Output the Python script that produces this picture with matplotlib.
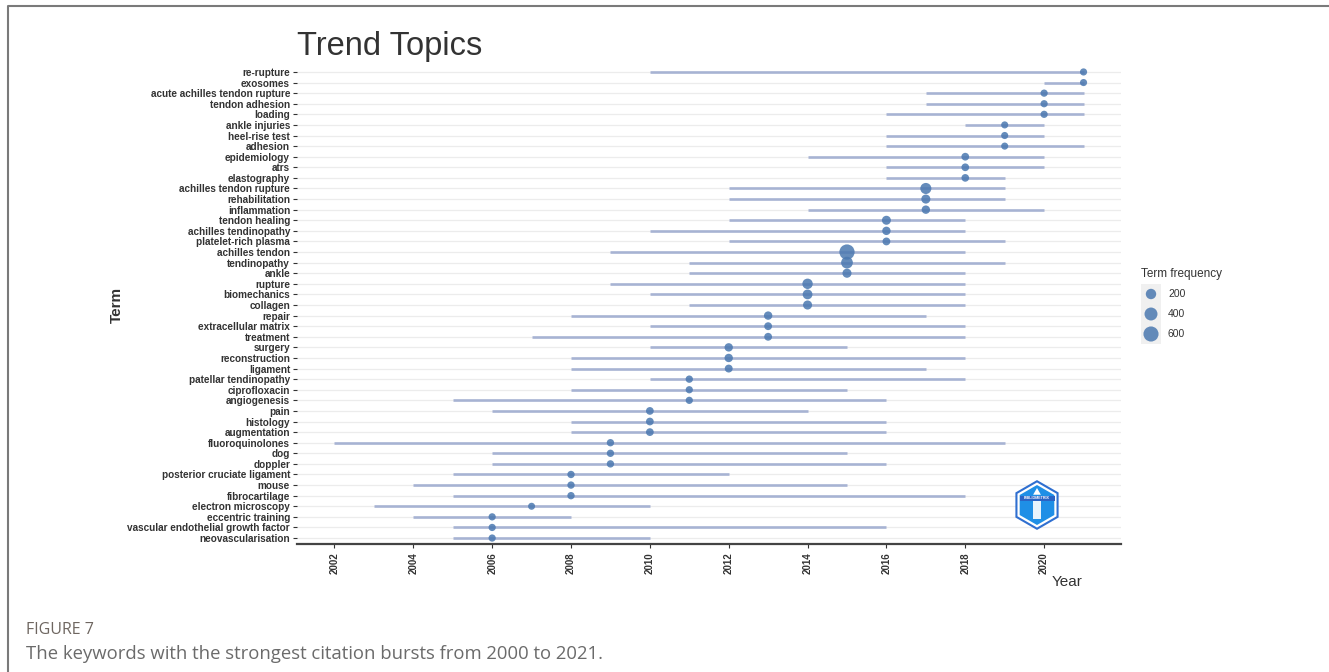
import matplotlib.pyplot as plt
import matplotlib as mpl
import numpy as np
from matplotlib.patches import RegularPolygon, Rectangle

mpl.rcParams['font.family'] = ['Liberation Sans', 'DejaVu Sans']

# terms from top to bottom, with first-quartile, median and third-quartile year
terms = ['re-rupture', 'exosomes', 'acute achilles tendon rupture', 'tendon adhesion',
         'loading', 'ankle injuries', 'heel-rise test', 'adhesion', 'epidemiology', 'atrs',
         'elastography', 'achilles tendon rupture', 'rehabilitation', 'inflammation',
         'tendon healing', 'achilles tendinopathy', 'platelet-rich plasma', 'achilles tendon',
         'tendinopathy', 'ankle', 'rupture', 'biomechanics', 'collagen', 'repair',
         'extracellular matrix', 'treatment', 'surgery', 'reconstruction', 'ligament',
         'patellar tendinopathy', 'ciprofloxacin', 'angiogenesis', 'pain', 'histology',
         'augmentation', 'fluoroquinolones', 'dog', 'doppler', 'posterior cruciate ligament',
         'mouse', 'fibrocartilage', 'electron microscopy', 'eccentric training',
         'vascular endothelial growth factor', 'neovascularisation']
year_q1 = [2010, 2020, 2017, 2017, 2016, 2018, 2016, 2016, 2014, 2016,
           2016, 2012, 2012, 2014, 2012, 2010, 2012, 2009, 2011, 2011,
           2009, 2010, 2011, 2008, 2010, 2007, 2010, 2008, 2008, 2010,
           2008, 2005, 2006, 2008, 2008, 2002, 2006, 2006, 2005, 2004,
           2005, 2003, 2004, 2005, 2005]
year_med = [2021, 2021, 2020, 2020, 2020, 2019, 2019, 2019, 2018, 2018,
            2018, 2017, 2017, 2017, 2016, 2016, 2016, 2015, 2015, 2015,
            2014, 2014, 2014, 2013, 2013, 2013, 2012, 2012, 2012, 2011,
            2011, 2011, 2010, 2010, 2010, 2009, 2009, 2009, 2008, 2008,
            2008, 2007, 2006, 2006, 2006]
year_q3 = [2021, 2021, 2021, 2021, 2021, 2020, 2020, 2021, 2020, 2020,
           2019, 2019, 2019, 2020, 2018, 2018, 2019, 2018, 2019, 2018,
           2018, 2018, 2018, 2017, 2018, 2018, 2015, 2018, 2017, 2018,
           2015, 2016, 2014, 2016, 2016, 2019, 2015, 2016, 2012, 2015,
           2018, 2010, 2008, 2016, 2010]
freq = [12, 10, 15, 14, 14, 8, 9, 8, 40, 38,
        35, 250, 115, 75, 110, 75, 45, 615, 300, 115,
        200, 160, 115, 75, 45, 45, 75, 75, 50, 20,
        15, 15, 40, 40, 40, 20, 20, 20, 20, 20,
        20, 5, 15, 15, 15]
legend_freq = [200, 400, 600]
year_ticks = list(range(2002, 2021, 2))

DOT = '#4a78b0'
SEG = '#a7b3d3'


def marker_area(v):
    # point area grows linearly with term frequency (pixel diameter -> points^2)
    d_px = np.sqrt(48 + 0.30 * np.asarray(v, dtype=float))
    return (d_px * 72 / 100) ** 2


fig = plt.figure(figsize=(13.29, 6.72), dpi=100)
ax = fig.add_axes([297 / 1329, 1 - 544.4 / 672, 824 / 1329, (544.4 - 65.6) / 672])

ypos = np.arange(len(terms))
for y in ypos:
    ax.axhline(y, color='#ececec', lw=0.9, zorder=0)
ax.hlines(ypos, year_q1, year_q3, color=SEG, lw=1.9, zorder=1)
ax.scatter(year_med, ypos, s=marker_area(freq), color=DOT, alpha=0.85,
           edgecolors='none', zorder=2)

span = max(year_q3) - min(year_q1)
ax.set_xlim(min(year_q1) - 0.05 * span, max(year_q3) + 0.05 * span)
ax.set_ylim(len(terms) - 0.4, -0.6)
ax.set_yticks(ypos)
ax.set_yticklabels(terms, fontsize=7.2, fontweight='bold', color='#333333')
ax.set_xticks(year_ticks)
ax.set_xticklabels([str(t) for t in year_ticks], rotation=90, fontsize=7,
                   fontweight='bold', color='#333333')
ax.tick_params(axis='y', length=3, width=0.8, color='#333333', pad=2)
ax.tick_params(axis='x', length=3, width=0.8, color='#333333', pad=3)
for side in ['top', 'right', 'left']:
    ax.spines[side].set_visible(False)
ax.spines['bottom'].set_color('#444444')
ax.spines['bottom'].set_linewidth(1.6)

fig.text(297 / 1329, 1 - 46 / 672, 'Trend Topics', fontsize=23.5, color='#333333',
         va='center', ha='left')
fig.text(117 / 1329, 1 - 305 / 672, 'Term', fontsize=11, fontweight='bold',
         color='#333333', rotation=90, va='center', ha='center')
fig.text(1083 / 1329, 1 - 582 / 672, 'Year', fontsize=11, color='#333333',
         va='center', ha='right')

# size legend
lax = fig.add_axes([1136 / 1329, 1 - 348 / 672, 110 / 1329, 85 / 672])
lax.set_xlim(0, 110)
lax.set_ylim(85, 0)
lax.axis('off')
lax.text(5, 11, 'Term frequency', fontsize=8.5, color='#333333', va='center')
lax.add_patch(Rectangle((5, 21), 20, 60, color='#f0f0f0', lw=0))
for i, v in enumerate(legend_freq):
    yy = 31 + i * 20
    lax.scatter([15], [yy], s=marker_area(v), color=DOT, alpha=0.85, edgecolors='none')
    lax.text(32, yy, str(v), fontsize=7.5, color='#333333', va='center')

# bibliometrix badge
bax = fig.add_axes([1012 / 1329, 1 - 530 / 672, 50 / 1329, 50 / 672])
bax.set_xlim(-1, 1)
bax.set_ylim(-1, 1)
bax.set_aspect('equal')
bax.axis('off')
bax.add_patch(RegularPolygon((0, 0), 6, radius=0.95, facecolor='white',
                             edgecolor='#2f6fd0', lw=1.5))
bax.add_patch(RegularPolygon((0, 0), 6, radius=0.8, facecolor='#1f8fe6', lw=0))
bax.add_patch(Rectangle((-0.7, 0.18), 1.4, 0.18, color='#2b63c4', lw=0))
bax.text(0, 0.27, 'BIBLIOMETRIX', fontsize=2.6, fontweight='bold', color='white',
         ha='center', va='center')
bax.add_patch(Rectangle((-0.15, -0.55), 0.3, 0.7, facecolor='white', lw=0, alpha=0.9))
bax.add_patch(RegularPolygon((0, 0.5), 3, radius=0.18, facecolor='white', lw=0))

# caption
fig.text(26 / 1329, 1 - 630 / 672, 'FIGURE 7', fontsize=11.5, color='#6e6660',
         family=['Open Sans', 'DejaVu Sans'], va='center')
fig.text(26 / 1329, 1 - 654 / 672,
         'The keywords with the strongest citation bursts from 2000 to 2021.',
         fontsize=13.3, color='#6b6b6b', family=['Open Sans', 'DejaVu Sans'], va='center')

# frame around the figure panel
fig.add_artist(mpl.lines.Line2D([7.5 / 1329, 7.5 / 1329, 1.0], [0, 1 - 5.5 / 672, 1 - 5.5 / 672],
                                transform=fig.transFigure, color='#7a7a7a', lw=1.5))

fig.savefig('out.png', dpi=100)
